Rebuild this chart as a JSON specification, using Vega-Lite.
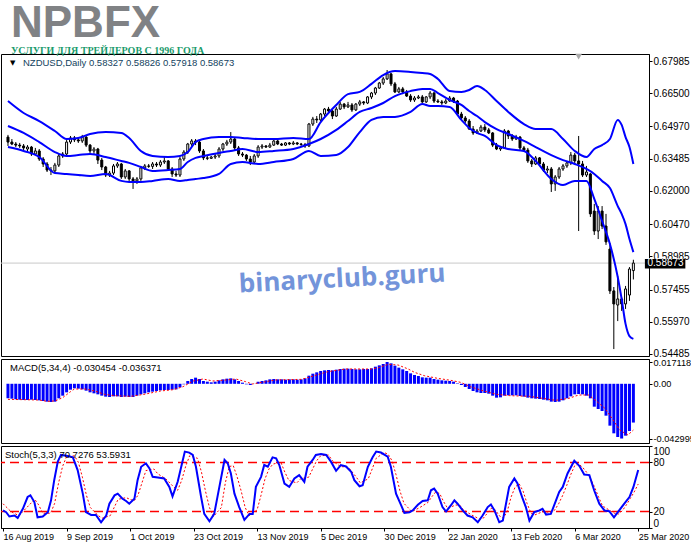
{
"$schema":"https://vega.github.io/schema/vega-lite/v6.json",
"padding":{"left":-2,"top":2,"right":0,"bottom":0},
"background":"white",
"spacing":3,
"bounds":"flush",
"title":{"text":"NPBFX","subtitle":"УСЛУГИ ДЛЯ ТРЕЙДЕРОВ С 1996 ГОДА","anchor":"start","frame":"group","font":"Liberation Sans","fontSize":44,"fontWeight":"bold","color":"#808285","subtitleFont":"Liberation Sans Narrow","subtitleFontSize":10,"subtitleFontWeight":"bold","subtitleColor":"#1a9b6c","subtitlePadding":0,"offset":-3,"dx":10},
"config":{"view":{"stroke":"#000","strokeWidth":1},"axis":{"labelFont":"Liberation Sans","labelColor":"#000","domainColor":"#000","tickColor":"#000","grid":false,"labelFontSize":10}},
"datasets":{
"bars":[
{"i":0,"o":0.6448,"h":0.6458,"l":0.6407,"c":0.6425,"m":-0.01142},
{"i":1,"o":0.6425,"h":0.6439,"l":0.6411,"c":0.6416,"m":-0.01168},
{"i":2,"o":0.6416,"h":0.6425,"l":0.6402,"c":0.6411,"m":-0.01221},
{"i":3,"o":0.6411,"h":0.6421,"l":0.6398,"c":0.6407,"m":-0.01247},
{"i":4,"o":0.6407,"h":0.6416,"l":0.6388,"c":0.6398,"m":-0.01273},
{"i":5,"o":0.6393,"h":0.6411,"l":0.6379,"c":0.6402,"m":-0.01273},
{"i":6,"o":0.6402,"h":0.6407,"l":0.6361,"c":0.637,"m":-0.01247},
{"i":7,"o":0.637,"h":0.6398,"l":0.6365,"c":0.6384,"m":-0.01273},
{"i":8,"o":0.6384,"h":0.6393,"l":0.6338,"c":0.6347,"m":-0.01299},
{"i":9,"o":0.6347,"h":0.6356,"l":0.631,"c":0.6324,"m":-0.01352},
{"i":10,"o":0.6324,"h":0.6333,"l":0.6287,"c":0.6296,"m":-0.01404},
{"i":11,"o":0.6296,"h":0.631,"l":0.6273,"c":0.6292,"m":-0.0143},
{"i":12,"o":0.6292,"h":0.6329,"l":0.6282,"c":0.6319,"m":-0.01404},
{"i":13,"o":0.6319,"h":0.637,"l":0.631,"c":0.6361,"m":-0.01142},
{"i":14,"o":0.6361,"h":0.6379,"l":0.6352,"c":0.637,"m":-0.00932},
{"i":15,"o":0.637,"h":0.6435,"l":0.6361,"c":0.6425,"m":-0.00671},
{"i":16,"o":0.6425,"h":0.6453,"l":0.6416,"c":0.6444,"m":-0.00461},
{"i":17,"o":0.6444,"h":0.6453,"l":0.6425,"c":0.6435,"m":-0.00356},
{"i":18,"o":0.6435,"h":0.6448,"l":0.6421,"c":0.643,"m":-0.00382},
{"i":19,"o":0.643,"h":0.6458,"l":0.6421,"c":0.6448,"m":-0.00435},
{"i":20,"o":0.6448,"h":0.6453,"l":0.6402,"c":0.6411,"m":-0.0054},
{"i":21,"o":0.6411,"h":0.6416,"l":0.637,"c":0.6384,"m":-0.00671},
{"i":22,"o":0.6384,"h":0.6402,"l":0.637,"c":0.6393,"m":-0.00749},
{"i":23,"o":0.6393,"h":0.6398,"l":0.6324,"c":0.6342,"m":-0.00828},
{"i":24,"o":0.6342,"h":0.6352,"l":0.6296,"c":0.631,"m":-0.00932},
{"i":25,"o":0.631,"h":0.6315,"l":0.6264,"c":0.6273,"m":-0.01011},
{"i":26,"o":0.6273,"h":0.6292,"l":0.6264,"c":0.6282,"m":-0.01037},
{"i":27,"o":0.6282,"h":0.6324,"l":0.6273,"c":0.6315,"m":-0.00985},
{"i":28,"o":0.6315,"h":0.6333,"l":0.6306,"c":0.6324,"m":-0.00985},
{"i":29,"o":0.6324,"h":0.6329,"l":0.6255,"c":0.6264,"m":-0.01037},
{"i":30,"o":0.6264,"h":0.6301,"l":0.6255,"c":0.6292,"m":-0.01011},
{"i":31,"o":0.6292,"h":0.6296,"l":0.6241,"c":0.6255,"m":-0.01037},
{"i":32,"o":0.6255,"h":0.6264,"l":0.6209,"c":0.6246,"m":-0.01037},
{"i":33,"o":0.6246,"h":0.6264,"l":0.6232,"c":0.6255,"m":-0.00932},
{"i":34,"o":0.6255,"h":0.6315,"l":0.6246,"c":0.6306,"m":-0.00828},
{"i":35,"o":0.6306,"h":0.6324,"l":0.6296,"c":0.6315,"m":-0.00749},
{"i":36,"o":0.6315,"h":0.6324,"l":0.6306,"c":0.6313,"m":-0.00671},
{"i":37,"o":0.6313,"h":0.6333,"l":0.6301,"c":0.6324,"m":-0.00618},
{"i":38,"o":0.6324,"h":0.6333,"l":0.631,"c":0.6319,"m":-0.00566},
{"i":39,"o":0.6319,"h":0.6342,"l":0.631,"c":0.6333,"m":-0.00513},
{"i":40,"o":0.6333,"h":0.6356,"l":0.6324,"c":0.6338,"m":-0.00487},
{"i":41,"o":0.6338,"h":0.6342,"l":0.6292,"c":0.6301,"m":-0.00487},
{"i":42,"o":0.6301,"h":0.631,"l":0.6264,"c":0.6278,"m":-0.00461},
{"i":43,"o":0.6278,"h":0.6292,"l":0.6264,"c":0.6273,"m":-0.00435},
{"i":44,"o":0.6273,"h":0.6356,"l":0.6264,"c":0.6347,"m":-0.00278},
{"i":45,"o":0.6347,"h":0.6388,"l":0.6338,"c":0.6379,"m":-0.00042},
{"i":46,"o":0.6379,"h":0.6421,"l":0.637,"c":0.6416,"m":0.0022},
{"i":47,"o":0.6416,"h":0.6439,"l":0.6407,"c":0.643,"m":0.00377},
{"i":48,"o":0.643,"h":0.6439,"l":0.6411,"c":0.6425,"m":0.00482},
{"i":49,"o":0.6425,"h":0.643,"l":0.6375,"c":0.6384,"m":0.00377},
{"i":50,"o":0.6384,"h":0.6393,"l":0.6342,"c":0.6352,"m":0.0022},
{"i":51,"o":0.6352,"h":0.6365,"l":0.6342,"c":0.635,"m":0.00168},
{"i":52,"o":0.635,"h":0.6361,"l":0.6347,"c":0.6356,"m":0.00115},
{"i":53,"o":0.6356,"h":0.637,"l":0.6347,"c":0.6361,"m":0.00168},
{"i":54,"o":0.6361,"h":0.6402,"l":0.6352,"c":0.6393,"m":0.00272},
{"i":55,"o":0.6393,"h":0.6421,"l":0.6384,"c":0.6416,"m":0.00351},
{"i":56,"o":0.6416,"h":0.6435,"l":0.6407,"c":0.6425,"m":0.00403},
{"i":57,"o":0.6425,"h":0.6471,"l":0.6416,"c":0.6439,"m":0.0043},
{"i":58,"o":0.6439,"h":0.6444,"l":0.6388,"c":0.6398,"m":0.00351},
{"i":59,"o":0.6398,"h":0.6407,"l":0.6361,"c":0.637,"m":0.0022},
{"i":60,"o":0.637,"h":0.6379,"l":0.6356,"c":0.6365,"m":0.00089},
{"i":61,"o":0.6365,"h":0.637,"l":0.6338,"c":0.6347,"m":-0.00042},
{"i":62,"o":0.6347,"h":0.6361,"l":0.6319,"c":0.6333,"m":-0.00094},
{"i":63,"o":0.6333,"h":0.637,"l":0.6324,"c":0.6361,"m":0.0001},
{"i":64,"o":0.6361,"h":0.6411,"l":0.6352,"c":0.6402,"m":0.00168},
{"i":65,"o":0.6402,"h":0.6416,"l":0.6393,"c":0.6407,"m":0.0022},
{"i":66,"o":0.6407,"h":0.6411,"l":0.6398,"c":0.6402,"m":0.00272},
{"i":67,"o":0.6402,"h":0.6421,"l":0.6398,"c":0.6411,"m":0.00351},
{"i":68,"o":0.6411,"h":0.6439,"l":0.6407,"c":0.643,"m":0.00377},
{"i":69,"o":0.643,"h":0.6435,"l":0.6411,"c":0.6416,"m":0.00351},
{"i":70,"o":0.6416,"h":0.6421,"l":0.6407,"c":0.6411,"m":0.00351},
{"i":71,"o":0.6411,"h":0.6425,"l":0.6407,"c":0.6421,"m":0.00325},
{"i":72,"o":0.6421,"h":0.6425,"l":0.6411,"c":0.6416,"m":0.00351},
{"i":73,"o":0.6416,"h":0.643,"l":0.6411,"c":0.6421,"m":0.00351},
{"i":74,"o":0.6421,"h":0.6425,"l":0.6411,"c":0.6416,"m":0.00325},
{"i":75,"o":0.6416,"h":0.6421,"l":0.6407,"c":0.6414,"m":0.00351},
{"i":76,"o":0.6414,"h":0.6421,"l":0.6398,"c":0.6407,"m":0.0043},
{"i":77,"o":0.6407,"h":0.6513,"l":0.6402,"c":0.6508,"m":0.00639},
{"i":78,"o":0.6508,"h":0.6541,"l":0.6499,"c":0.6531,"m":0.00796},
{"i":79,"o":0.6531,"h":0.6545,"l":0.6513,"c":0.6527,"m":0.00901},
{"i":80,"o":0.6527,"h":0.6559,"l":0.6522,"c":0.6554,"m":0.01006},
{"i":81,"o":0.6554,"h":0.6582,"l":0.6545,"c":0.6577,"m":0.01058},
{"i":82,"o":0.6577,"h":0.6587,"l":0.6559,"c":0.6568,"m":0.01084},
{"i":83,"o":0.6568,"h":0.6573,"l":0.6531,"c":0.6545,"m":0.01058},
{"i":84,"o":0.6545,"h":0.6587,"l":0.6541,"c":0.6577,"m":0.01111},
{"i":85,"o":0.6577,"h":0.661,"l":0.6573,"c":0.66,"m":0.01163},
{"i":86,"o":0.66,"h":0.6605,"l":0.6577,"c":0.6587,"m":0.01189},
{"i":87,"o":0.6587,"h":0.661,"l":0.6582,"c":0.6596,"m":0.01189},
{"i":88,"o":0.6596,"h":0.6605,"l":0.6564,"c":0.6573,"m":0.01163},
{"i":89,"o":0.6573,"h":0.6605,"l":0.6568,"c":0.66,"m":0.01137},
{"i":90,"o":0.66,"h":0.6619,"l":0.6591,"c":0.661,"m":0.01137},
{"i":91,"o":0.661,"h":0.6614,"l":0.6596,"c":0.6605,"m":0.01163},
{"i":92,"o":0.6605,"h":0.6637,"l":0.66,"c":0.6633,"m":0.01163},
{"i":93,"o":0.6633,"h":0.6656,"l":0.6623,"c":0.6651,"m":0.01215},
{"i":94,"o":0.6651,"h":0.6679,"l":0.6642,"c":0.6674,"m":0.01346},
{"i":95,"o":0.6674,"h":0.6702,"l":0.667,"c":0.6697,"m":0.01451},
{"i":96,"o":0.6697,"h":0.6725,"l":0.6688,"c":0.6716,"m":0.01556},
{"i":97,"o":0.6716,"h":0.6757,"l":0.6711,"c":0.6739,"m":0.017118},
{"i":98,"o":0.6739,"h":0.6743,"l":0.6683,"c":0.6693,"m":0.01608},
{"i":99,"o":0.6693,"h":0.6702,"l":0.6651,"c":0.6656,"m":0.01425},
{"i":100,"o":0.6656,"h":0.6679,"l":0.6651,"c":0.667,"m":0.01268},
{"i":101,"o":0.667,"h":0.6679,"l":0.6646,"c":0.6656,"m":0.01137},
{"i":102,"o":0.6656,"h":0.6665,"l":0.6633,"c":0.6637,"m":0.01006},
{"i":103,"o":0.6637,"h":0.6646,"l":0.661,"c":0.6619,"m":0.00822},
{"i":104,"o":0.6619,"h":0.6637,"l":0.661,"c":0.6628,"m":0.00692},
{"i":105,"o":0.6628,"h":0.6642,"l":0.6623,"c":0.6633,"m":0.00613},
{"i":106,"o":0.6633,"h":0.6642,"l":0.6605,"c":0.661,"m":0.00508},
{"i":107,"o":0.661,"h":0.6637,"l":0.6605,"c":0.6633,"m":0.00482},
{"i":108,"o":0.6633,"h":0.666,"l":0.6623,"c":0.6651,"m":0.00482},
{"i":109,"o":0.6651,"h":0.6656,"l":0.6605,"c":0.6614,"m":0.00377},
{"i":110,"o":0.6614,"h":0.6623,"l":0.6605,"c":0.661,"m":0.00325},
{"i":111,"o":0.661,"h":0.6619,"l":0.6596,"c":0.6605,"m":0.00272},
{"i":112,"o":0.6605,"h":0.6623,"l":0.66,"c":0.6614,"m":0.00246},
{"i":113,"o":0.6614,"h":0.6637,"l":0.661,"c":0.6628,"m":0.0022},
{"i":114,"o":0.6628,"h":0.6633,"l":0.6605,"c":0.6614,"m":0.00168},
{"i":115,"o":0.6614,"h":0.6619,"l":0.6545,"c":0.6554,"m":0.00037},
{"i":116,"o":0.6554,"h":0.6564,"l":0.6527,"c":0.6536,"m":-0.00094},
{"i":117,"o":0.6536,"h":0.6545,"l":0.6513,"c":0.6522,"m":-0.00251},
{"i":118,"o":0.6522,"h":0.6531,"l":0.6481,"c":0.6485,"m":-0.00409},
{"i":119,"o":0.6485,"h":0.6499,"l":0.6458,"c":0.6467,"m":-0.00566},
{"i":120,"o":0.6467,"h":0.6485,"l":0.6462,"c":0.6476,"m":-0.00671},
{"i":121,"o":0.6476,"h":0.6504,"l":0.6471,"c":0.6494,"m":-0.00723},
{"i":122,"o":0.6494,"h":0.6508,"l":0.6471,"c":0.6481,"m":-0.00723},
{"i":123,"o":0.6481,"h":0.649,"l":0.6462,"c":0.6467,"m":-0.00775},
{"i":124,"o":0.6467,"h":0.6471,"l":0.6402,"c":0.6411,"m":-0.00932},
{"i":125,"o":0.6411,"h":0.6421,"l":0.6388,"c":0.6393,"m":-0.0109},
{"i":126,"o":0.6393,"h":0.6407,"l":0.6384,"c":0.6398,"m":-0.01063},
{"i":127,"o":0.6398,"h":0.6485,"l":0.6393,"c":0.6476,"m":-0.00932},
{"i":128,"o":0.6476,"h":0.6481,"l":0.6439,"c":0.6453,"m":-0.00906},
{"i":129,"o":0.6453,"h":0.6462,"l":0.643,"c":0.6439,"m":-0.00906},
{"i":130,"o":0.6439,"h":0.6458,"l":0.6435,"c":0.6448,"m":-0.00906},
{"i":131,"o":0.6448,"h":0.6453,"l":0.6388,"c":0.6398,"m":-0.00959},
{"i":132,"o":0.6398,"h":0.6407,"l":0.6379,"c":0.6388,"m":-0.01011},
{"i":133,"o":0.6388,"h":0.6398,"l":0.6329,"c":0.6338,"m":-0.0109},
{"i":134,"o":0.6338,"h":0.6347,"l":0.631,"c":0.6324,"m":-0.01142},
{"i":135,"o":0.6324,"h":0.6361,"l":0.6319,"c":0.6352,"m":-0.01168},
{"i":136,"o":0.6352,"h":0.6356,"l":0.6315,"c":0.6324,"m":-0.01194},
{"i":137,"o":0.6324,"h":0.6333,"l":0.6287,"c":0.6296,"m":-0.01247},
{"i":138,"o":0.6296,"h":0.6315,"l":0.6282,"c":0.6301,"m":-0.01299},
{"i":139,"o":0.6301,"h":0.631,"l":0.6195,"c":0.6232,"m":-0.01404},
{"i":140,"o":0.6232,"h":0.6273,"l":0.62,"c":0.6264,"m":-0.0143},
{"i":141,"o":0.6264,"h":0.631,"l":0.6255,"c":0.6301,"m":-0.01404},
{"i":142,"o":0.6301,"h":0.6324,"l":0.6292,"c":0.6315,"m":-0.01299},
{"i":143,"o":0.6315,"h":0.6338,"l":0.6306,"c":0.6329,"m":-0.01142},
{"i":144,"o":0.6329,"h":0.6379,"l":0.6319,"c":0.6365,"m":-0.00985},
{"i":145,"o":0.6365,"h":0.6375,"l":0.6324,"c":0.6338,"m":-0.00828},
{"i":146,"o":0.6338,"h":0.6453,"l":0.6015,"c":0.6324,"m":-0.00802},
{"i":147,"o":0.6324,"h":0.6338,"l":0.6264,"c":0.6273,"m":-0.00828},
{"i":148,"o":0.6273,"h":0.6315,"l":0.6264,"c":0.6287,"m":-0.00932},
{"i":149,"o":0.6278,"h":0.6282,"l":0.608,"c":0.6094,"m":-0.01142},
{"i":150,"o":0.6107,"h":0.614,"l":0.5997,"c":0.6015,"m":-0.01797},
{"i":151,"o":0.6015,"h":0.613,"l":0.5978,"c":0.6107,"m":-0.0198},
{"i":152,"o":0.6107,"h":0.613,"l":0.6024,"c":0.6038,"m":-0.02137},
{"i":153,"o":0.6038,"h":0.6094,"l":0.5951,"c":0.5965,"m":-0.02504},
{"i":154,"o":0.5932,"h":0.596,"l":0.5725,"c":0.5739,"m":-0.0329},
{"i":155,"o":0.5739,"h":0.5757,"l":0.5471,"c":0.5679,"m":-0.03892},
{"i":156,"o":0.5674,"h":0.5808,"l":0.56,"c":0.5702,"m":-0.04181},
{"i":157,"o":0.5702,"h":0.5711,"l":0.5647,"c":0.5679,"m":-0.042995},
{"i":158,"o":0.5679,"h":0.5762,"l":0.5656,"c":0.5748,"m":-0.04076},
{"i":159,"o":0.572,"h":0.5849,"l":0.5693,"c":0.584,"m":-0.0371},
{"i":160,"o":0.58327,"h":0.58826,"l":0.57918,"c":0.58673,"m":-0.030454}
],
"bands":[
{"i":0,"up":0.6614,"mid":0.6499,"lo":0.6402},
{"i":4,"up":0.6559,"mid":0.6467,"lo":0.6384},
{"i":8,"up":0.6522,"mid":0.6425,"lo":0.6356},
{"i":12,"up":0.6476,"mid":0.6379,"lo":0.6282},
{"i":15,"up":0.6439,"mid":0.6361,"lo":0.6278},
{"i":18,"up":0.6444,"mid":0.6365,"lo":0.6273},
{"i":21,"up":0.6462,"mid":0.637,"lo":0.6269},
{"i":25,"up":0.6471,"mid":0.6356,"lo":0.6278},
{"i":29,"up":0.6467,"mid":0.6338,"lo":0.6246},
{"i":31,"up":0.6444,"mid":0.6329,"lo":0.6241},
{"i":34,"up":0.6384,"mid":0.631,"lo":0.6241},
{"i":37,"up":0.6361,"mid":0.6292,"lo":0.6246},
{"i":41,"up":0.6356,"mid":0.6296,"lo":0.6255},
{"i":44,"up":0.6361,"mid":0.6301,"lo":0.6246},
{"i":46,"up":0.6379,"mid":0.6333,"lo":0.625},
{"i":48,"up":0.6425,"mid":0.6352,"lo":0.6255},
{"i":50,"up":0.6439,"mid":0.6361,"lo":0.6259},
{"i":54,"up":0.6448,"mid":0.6375,"lo":0.6278},
{"i":57,"up":0.6448,"mid":0.6384,"lo":0.6324},
{"i":60,"up":0.6444,"mid":0.6393,"lo":0.6333},
{"i":64,"up":0.6439,"mid":0.6379,"lo":0.6324},
{"i":68,"up":0.6439,"mid":0.6384,"lo":0.6333},
{"i":73,"up":0.6444,"mid":0.6393,"lo":0.6347},
{"i":77,"up":0.6439,"mid":0.6416,"lo":0.6384},
{"i":80,"up":0.6517,"mid":0.6439,"lo":0.6361},
{"i":84,"up":0.6596,"mid":0.6481,"lo":0.6365},
{"i":87,"up":0.6646,"mid":0.6522,"lo":0.6402},
{"i":90,"up":0.6656,"mid":0.6564,"lo":0.6471},
{"i":93,"up":0.6693,"mid":0.6582,"lo":0.6527},
{"i":96,"up":0.6734,"mid":0.6605,"lo":0.6541},
{"i":99,"up":0.6752,"mid":0.6637,"lo":0.6541},
{"i":103,"up":0.6748,"mid":0.666,"lo":0.6564},
{"i":106,"up":0.6743,"mid":0.667,"lo":0.66},
{"i":108,"up":0.6739,"mid":0.667,"lo":0.6591},
{"i":110,"up":0.6716,"mid":0.6651,"lo":0.6591},
{"i":113,"up":0.666,"mid":0.6619,"lo":0.6587},
{"i":116,"up":0.6656,"mid":0.6596,"lo":0.6527},
{"i":118,"up":0.6665,"mid":0.6568,"lo":0.649},
{"i":120,"up":0.6683,"mid":0.6545,"lo":0.6467},
{"i":122,"up":0.6665,"mid":0.6517,"lo":0.6453},
{"i":125,"up":0.6614,"mid":0.6485,"lo":0.6411},
{"i":128,"up":0.6564,"mid":0.6462,"lo":0.6393},
{"i":132,"up":0.6508,"mid":0.643,"lo":0.6384},
{"i":135,"up":0.6485,"mid":0.6402,"lo":0.6338},
{"i":139,"up":0.6485,"mid":0.6365,"lo":0.6255},
{"i":142,"up":0.6439,"mid":0.6342,"lo":0.6227},
{"i":145,"up":0.6384,"mid":0.6324,"lo":0.6246},
{"i":148,"up":0.6356,"mid":0.6301,"lo":0.6246},
{"i":150,"up":0.6393,"mid":0.6278,"lo":0.6163},
{"i":152,"up":0.6411,"mid":0.6246,"lo":0.6061},
{"i":154,"up":0.6439,"mid":0.6213,"lo":0.5955},
{"i":156,"up":0.6527,"mid":0.613,"lo":0.5803},
{"i":157,"up":0.6504,"mid":0.6094,"lo":0.5702},
{"i":158,"up":0.6448,"mid":0.6047,"lo":0.5587},
{"i":159,"up":0.6402,"mid":0.5978,"lo":0.5531},
{"i":160,"up":0.6324,"mid":0.5918,"lo":0.5518}
],
"sig":[
{"i":0,"s":-0.01221},{"i":4,"s":-0.01247},{"i":8,"s":-0.01273},{"i":10,"s":-0.01378},{"i":12,"s":-0.01352},{"i":14,"s":-0.0109},{"i":16,"s":-0.00618},{"i":17,"s":-0.00409},{"i":19.7,"s":-0.00409},{"i":22.2,"s":-0.00566},{"i":24.7,"s":-0.00828},{"i":27.2,"s":-0.00932},{"i":31.4,"s":-0.00985},{"i":34.8,"s":-0.00828},{"i":39,"s":-0.00566},{"i":42.3,"s":-0.00461},{"i":44.8,"s":-0.00225},{"i":47.4,"s":0.0022},{"i":49.9,"s":0.00377},{"i":52.4,"s":0.0022},{"i":55.8,"s":0.00299},{"i":58.3,"s":0.00377},{"i":60.8,"s":0.00168},{"i":62.5,"s":-0.00016},{"i":65,"s":0.00115},{"i":68.3,"s":0.00299},{"i":75.1,"s":0.00351},{"i":78.4,"s":0.00639},{"i":81.8,"s":0.00953},{"i":86.4,"s":0.01163},{"i":93.1,"s":0.01163},{"i":94.8,"s":0.01268},{"i":97.3,"s":0.0153},{"i":99.8,"s":0.01477},{"i":102.4,"s":0.01163},{"i":104,"s":0.00901},{"i":106.5,"s":0.00639},{"i":109.9,"s":0.0043},{"i":113.3,"s":0.00272},{"i":115.8,"s":0.00115},{"i":118.3,"s":-0.00225},{"i":121.7,"s":-0.00566},{"i":125,"s":-0.00828},{"i":128.4,"s":-0.00932},{"i":133.4,"s":-0.00985},{"i":136.8,"s":-0.01142},{"i":140.1,"s":-0.01299},{"i":143.5,"s":-0.01142},{"i":146,"s":-0.0088},{"i":148.5,"s":-0.0088},{"i":150.2,"s":-0.01273},{"i":152.7,"s":-0.01923},{"i":154.8,"s":-0.02839},{"i":156.5,"s":-0.0363},{"i":158.6,"s":-0.04023},{"i":160,"s":-0.036371}
],
"k":[
{"i":0,"k":21.4},{"i":0.8,"k":19.3},{"i":1.6,"k":14},{"i":2.9,"k":15.2},{"i":3.7,"k":12.3},{"i":5,"k":23.4},{"i":6.2,"k":37.8},{"i":6.9,"k":39.8},{"i":7.9,"k":31.6},{"i":8.7,"k":13.1},{"i":10,"k":14},{"i":11.3,"k":19.3},{"i":12.1,"k":33.7},{"i":12.9,"k":58.3},{"i":13.8,"k":80.9},{"i":14.6,"k":89.1},{"i":16.3,"k":87.9},{"i":17.6,"k":86.2},{"i":18.8,"k":70.6},{"i":20.1,"k":41.9},{"i":20.9,"k":19.3},{"i":22.2,"k":16},{"i":23.4,"k":16},{"i":24.7,"k":7},{"i":26,"k":15.2},{"i":26.8,"k":29.6},{"i":28.1,"k":39.8},{"i":28.9,"k":41.9},{"i":30.1,"k":35.7},{"i":31,"k":32.9},{"i":31.8,"k":29.6},{"i":33.1,"k":35.7},{"i":33.9,"k":58.3},{"i":34.8,"k":74.7},{"i":36,"k":78.9},{"i":36.9,"k":72.7},{"i":37.7,"k":62.4},{"i":39,"k":61.6},{"i":40.6,"k":60.4},{"i":41.9,"k":50.1},{"i":42.7,"k":38.6},{"i":44,"k":56.3},{"i":45.3,"k":83},{"i":45.8,"k":93.2},{"i":46.9,"k":92},{"i":47.8,"k":89.1},{"i":48.6,"k":74.7},{"i":49.9,"k":37.8},{"i":50.7,"k":17.2},{"i":52,"k":8.2},{"i":53.2,"k":17.2},{"i":54.5,"k":50.1},{"i":55.8,"k":83},{"i":56.6,"k":78.9},{"i":57.4,"k":66.5},{"i":58.3,"k":41.9},{"i":59.5,"k":25.5},{"i":60.8,"k":9.9},{"i":62.1,"k":17.2},{"i":62.9,"k":17.2},{"i":63.7,"k":50.1},{"i":65,"k":62.4},{"i":65.8,"k":76.8},{"i":66.7,"k":74.7},{"i":67.9,"k":86.2},{"i":68.8,"k":85},{"i":69.6,"k":76.8},{"i":70.9,"k":54.2},{"i":72.1,"k":50.1},{"i":73.4,"k":60.4},{"i":74.6,"k":64.5},{"i":75.9,"k":56.3},{"i":76.7,"k":74.7},{"i":78,"k":83},{"i":78.8,"k":89.1},{"i":80.1,"k":90.3},{"i":81.4,"k":89.1},{"i":82.6,"k":80.9},{"i":83.9,"k":69.8},{"i":85.1,"k":76.8},{"i":86.4,"k":75},{"i":87.7,"k":68.6},{"i":88.5,"k":58.3},{"i":89.8,"k":50.9},{"i":90.6,"k":52.2},{"i":91.9,"k":74.7},{"i":93.1,"k":86.2},{"i":94,"k":93.2},{"i":95.2,"k":92},{"i":96.9,"k":87.1},{"i":97.7,"k":74.7},{"i":99,"k":41.9},{"i":100.3,"k":27.5},{"i":101.1,"k":18.5},{"i":102.4,"k":19.3},{"i":103.2,"k":21.4},{"i":104.5,"k":28.3},{"i":105.7,"k":32.9},{"i":107,"k":33.7},{"i":107.8,"k":46},{"i":108.6,"k":48},{"i":109.5,"k":41.9},{"i":110.7,"k":25.5},{"i":111.6,"k":20.1},{"i":112.8,"k":27.5},{"i":113.7,"k":33.7},{"i":114.5,"k":29.6},{"i":115.8,"k":21.4},{"i":117,"k":15.2},{"i":118.3,"k":13.1},{"i":119.6,"k":7},{"i":120.8,"k":15.2},{"i":122.1,"k":25.5},{"i":122.9,"k":28.7},{"i":123.8,"k":21.4},{"i":125,"k":7},{"i":125.9,"k":9},{"i":126.7,"k":29.6},{"i":127.5,"k":50.1},{"i":128.8,"k":60.4},{"i":129.6,"k":54.2},{"i":130.9,"k":35.7},{"i":131.7,"k":25.5},{"i":132.6,"k":9},{"i":133.8,"k":19.3},{"i":135.1,"k":21.4},{"i":135.9,"k":23.4},{"i":136.8,"k":16.4},{"i":138,"k":17.2},{"i":139.3,"k":33.7},{"i":140.1,"k":43.9},{"i":141,"k":50.1},{"i":142.2,"k":66.5},{"i":143.9,"k":82.1},{"i":145.2,"k":75.6},{"i":146.4,"k":65.3},{"i":147.7,"k":64.5},{"i":148.9,"k":46},{"i":150.2,"k":29.6},{"i":151.5,"k":21.4},{"i":152.7,"k":20.5},{"i":153.9,"k":13.1},{"i":155.2,"k":21.4},{"i":156.5,"k":29.6},{"i":157.8,"k":37.8},{"i":158.8,"k":50.1},{"i":160,"k":70.7276}
],
"d":[
{"i":0,"d":29.6},{"i":2,"d":20},{"i":4,"d":15},{"i":6,"d":25},{"i":8,"d":35},{"i":9,"d":28},{"i":10,"d":18},{"i":12,"d":18},{"i":13,"d":30},{"i":14,"d":55},{"i":15,"d":75},{"i":16,"d":87},{"i":18,"d":88},{"i":19,"d":80},{"i":20,"d":62},{"i":21,"d":40},{"i":22,"d":25},{"i":24,"d":15},{"i":25,"d":12},{"i":27,"d":15},{"i":28,"d":25},{"i":29,"d":35},{"i":31,"d":37},{"i":33,"d":33},{"i":34,"d":40},{"i":35,"d":55},{"i":36,"d":70},{"i":38,"d":72},{"i":39,"d":66},{"i":41,"d":60},{"i":43,"d":50},{"i":44,"d":46},{"i":45,"d":58},{"i":46,"d":75},{"i":47,"d":88},{"i":49,"d":85},{"i":50,"d":68},{"i":51,"d":45},{"i":52,"d":25},{"i":53,"d":14},{"i":55,"d":25},{"i":56,"d":55},{"i":57,"d":75},{"i":58,"d":76},{"i":59,"d":62},{"i":60,"d":45},{"i":61,"d":25},{"i":62,"d":15},{"i":64,"d":22},{"i":65,"d":40},{"i":66,"d":60},{"i":67,"d":72},{"i":68,"d":78},{"i":70,"d":80},{"i":71,"d":68},{"i":72,"d":58},{"i":74,"d":55},{"i":75,"d":60},{"i":77,"d":62},{"i":78,"d":72},{"i":79,"d":82},{"i":80,"d":88},{"i":82,"d":89},{"i":83,"d":82},{"i":85,"d":75},{"i":87,"d":74},{"i":89,"d":62},{"i":90,"d":55},{"i":92,"d":60},{"i":93,"d":72},{"i":94,"d":85},{"i":96,"d":92},{"i":97,"d":90},{"i":98,"d":82},{"i":99,"d":65},{"i":100,"d":45},{"i":101,"d":30},{"i":103,"d":20},{"i":105,"d":25},{"i":107,"d":31},{"i":108,"d":38},{"i":109,"d":44},{"i":110,"d":42},{"i":111,"d":32},{"i":112,"d":24},{"i":114,"d":28},{"i":115,"d":28},{"i":116,"d":22},{"i":118,"d":16},{"i":120,"d":11},{"i":121,"d":12},{"i":122,"d":18},{"i":123,"d":24},{"i":124,"d":22},{"i":125,"d":15},{"i":126,"d":12},{"i":127,"d":20},{"i":128,"d":38},{"i":129,"d":50},{"i":130,"d":54},{"i":131,"d":45},{"i":132,"d":30},{"i":133,"d":18},{"i":134,"d":16},{"i":136,"d":20},{"i":138,"d":19},{"i":139,"d":22},{"i":140,"d":30},{"i":141,"d":40},{"i":142,"d":52},{"i":143,"d":65},{"i":144,"d":76},{"i":145,"d":78},{"i":146,"d":74},{"i":147,"d":68},{"i":148,"d":60},{"i":149,"d":50},{"i":150,"d":38},{"i":151,"d":27},{"i":153,"d":21},{"i":154,"d":18},{"i":155,"d":17},{"i":156,"d":21},{"i":157,"d":28},{"i":158,"d":36},{"i":159,"d":44},{"i":160,"d":53.5931}
]
},
"vconcat":[
{
"width":648,"height":302,
"layer":[
{"data":{"values":[{}]},"mark":{"type":"rule","color":"#c8c8c8","strokeWidth":1},
 "encoding":{"y":{"datum":0.58673,"type":"quantitative","scale":{"domain":[0.54391,0.68308],"nice":false,"zero":false},"axis":{"orient":"right","values":[0.54485,0.5597,0.57455,0.58985,0.6047,0.62,0.63485,0.6497,0.665,0.67985],"format":".5f","title":null,"tickSize":3,"labelPadding":1,"labelFontSize":10}}}},
{"data":{"name":"bars"},"mark":{"type":"rule","color":"#000","strokeWidth":1},
 "encoding":{"x":{"field":"i","type":"quantitative","scale":{"domain":[-0.504,162.72],"nice":false,"zero":false},"axis":null},
  "y":{"field":"l","type":"quantitative","scale":{"domain":[0.54391,0.68308],"nice":false,"zero":false},"axis":{"orient":"right","values":[0.54485,0.5597,0.57455,0.58985,0.6047,0.62,0.63485,0.6497,0.665,0.67985],"format":".5f","title":null,"tickSize":3,"labelPadding":1,"labelFontSize":10}},"y2":{"field":"h"}}},
{"data":{"name":"bars"},"mark":{"type":"bar","width":2,"stroke":"#000","strokeWidth":1},
 "encoding":{"x":{"field":"i","type":"quantitative","scale":{"domain":[-0.504,162.72],"nice":false,"zero":false},"axis":null},
  "y":{"field":"o","type":"quantitative","scale":{"domain":[0.54391,0.68308],"nice":false,"zero":false},"axis":{"orient":"right","values":[0.54485,0.5597,0.57455,0.58985,0.6047,0.62,0.63485,0.6497,0.665,0.67985],"format":".5f","title":null,"tickSize":3,"labelPadding":1,"labelFontSize":10}},
  "y2":{"field":"c"},
  "fill":{"condition":{"test":"datum.c >= datum.o","value":"#ffffff"},"value":"#000000"}}},
{"data":{"name":"bands"},"mark":{"type":"line","color":"#0000ff","strokeWidth":2,"interpolate":"monotone"},
 "encoding":{"x":{"field":"i","type":"quantitative","scale":{"domain":[-0.504,162.72],"nice":false,"zero":false},"axis":null},
  "y":{"field":"up","type":"quantitative","scale":{"domain":[0.54391,0.68308],"nice":false,"zero":false},"axis":{"orient":"right","values":[0.54485,0.5597,0.57455,0.58985,0.6047,0.62,0.63485,0.6497,0.665,0.67985],"format":".5f","title":null,"tickSize":3,"labelPadding":1,"labelFontSize":10}}}},
{"data":{"name":"bands"},"mark":{"type":"line","color":"#0000ff","strokeWidth":2,"interpolate":"monotone"},
 "encoding":{"x":{"field":"i","type":"quantitative","scale":{"domain":[-0.504,162.72],"nice":false,"zero":false},"axis":null},
  "y":{"field":"mid","type":"quantitative","scale":{"domain":[0.54391,0.68308],"nice":false,"zero":false},"axis":{"orient":"right","values":[0.54485,0.5597,0.57455,0.58985,0.6047,0.62,0.63485,0.6497,0.665,0.67985],"format":".5f","title":null,"tickSize":3,"labelPadding":1,"labelFontSize":10}}}},
{"data":{"name":"bands"},"mark":{"type":"line","color":"#0000ff","strokeWidth":2,"interpolate":"monotone"},
 "encoding":{"x":{"field":"i","type":"quantitative","scale":{"domain":[-0.504,162.72],"nice":false,"zero":false},"axis":null},
  "y":{"field":"lo","type":"quantitative","scale":{"domain":[0.54391,0.68308],"nice":false,"zero":false},"axis":{"orient":"right","values":[0.54485,0.5597,0.57455,0.58985,0.6047,0.62,0.63485,0.6497,0.665,0.67985],"format":".5f","title":null,"tickSize":3,"labelPadding":1,"labelFontSize":10}}}},
{"data":{"values":[{"t":"▼"}]},"mark":{"type":"text","align":"left","baseline":"middle","font":"DejaVu Sans","fontSize":7,"color":"#000000","dx":2},
 "encoding":{"x":{"datum":0,"type":"quantitative","scale":{"domain":[-0.504,162.72],"nice":false,"zero":false},"axis":null},"y":{"datum":0.6789,"type":"quantitative","scale":{"domain":[0.54391,0.68308],"nice":false,"zero":false},"axis":{"orient":"right","values":[0.54485,0.5597,0.57455,0.58985,0.6047,0.62,0.63485,0.6497,0.665,0.67985],"format":".5f","title":null,"tickSize":3,"labelPadding":1,"labelFontSize":10}},"text":{"field":"t"}}},
{"data":{"values":[{"t":"NZDUSD,Daily  0.58327 0.58826 0.57918 0.58673"}]},"mark":{"type":"text","align":"left","baseline":"middle","font":"Liberation Sans","fontSize":9.5,"color":"#123f60","dx":15},
 "encoding":{"x":{"datum":0,"type":"quantitative","scale":{"domain":[-0.504,162.72],"nice":false,"zero":false},"axis":null},"y":{"datum":0.6789,"type":"quantitative","scale":{"domain":[0.54391,0.68308],"nice":false,"zero":false},"axis":{"orient":"right","values":[0.54485,0.5597,0.57455,0.58985,0.6047,0.62,0.63485,0.6497,0.665,0.67985],"format":".5f","title":null,"tickSize":3,"labelPadding":1,"labelFontSize":10}},"text":{"field":"t"}}},
{"data":{"values":[{"t":"binaryclub.guru"}]},"mark":{"type":"text","align":"center","baseline":"alphabetic","font":"Open Sans","fontWeight":"bold","fontSize":26,"color":"#7394da","angle":-3},
 "encoding":{"x":{"datum":85.6,"type":"quantitative","scale":{"domain":[-0.504,162.72],"nice":false,"zero":false},"axis":null},"y":{"datum":0.5757,"type":"quantitative","scale":{"domain":[0.54391,0.68308],"nice":false,"zero":false},"axis":{"orient":"right","values":[0.54485,0.5597,0.57455,0.58985,0.6047,0.62,0.63485,0.6497,0.665,0.67985],"format":".5f","title":null,"tickSize":3,"labelPadding":1,"labelFontSize":10}},"text":{"field":"t"}}},
{"data":{"values":[{}]},"mark":{"type":"point","shape":"triangle-down","filled":true,"color":"#aaaaaa","size":45,"opacity":1},
 "encoding":{"x":{"datum":146,"type":"quantitative","scale":{"domain":[-0.504,162.72],"nice":false,"zero":false},"axis":null},"y":{"datum":0.6819,"type":"quantitative","scale":{"domain":[0.54391,0.68308],"nice":false,"zero":false},"axis":{"orient":"right","values":[0.54485,0.5597,0.57455,0.58985,0.6047,0.62,0.63485,0.6497,0.665,0.67985],"format":".5f","title":null,"tickSize":3,"labelPadding":1,"labelFontSize":10}}}},
{"data":{"values":[{}]},"mark":{"type":"rect","color":"#000000"},
 "encoding":{"x":{"datum":162.95,"type":"quantitative","scale":{"domain":[-0.504,162.72],"nice":false,"zero":false},"axis":null},"x2":{"datum":173.3},"y":{"datum":0.58862,"type":"quantitative","scale":{"domain":[0.54391,0.68308],"nice":false,"zero":false},"axis":{"orient":"right","values":[0.54485,0.5597,0.57455,0.58985,0.6047,0.62,0.63485,0.6497,0.665,0.67985],"format":".5f","title":null,"tickSize":3,"labelPadding":1,"labelFontSize":10}},"y2":{"datum":0.58424}}},
{"data":{"values":[{"t":"0.58673"}]},"mark":{"type":"text","align":"left","baseline":"middle","font":"Liberation Sans","fontSize":10,"color":"#ffffff","dx":2},
 "encoding":{"x":{"datum":163.1,"type":"quantitative","scale":{"domain":[-0.504,162.72],"nice":false,"zero":false},"axis":null},"y":{"datum":0.58673,"type":"quantitative","scale":{"domain":[0.54391,0.68308],"nice":false,"zero":false},"axis":{"orient":"right","values":[0.54485,0.5597,0.57455,0.58985,0.6047,0.62,0.63485,0.6497,0.665,0.67985],"format":".5f","title":null,"tickSize":3,"labelPadding":1,"labelFontSize":10}},"text":{"field":"t"}}}
]
},
{
"width":648,"height":84,
"layer":[
{"data":{"name":"bars"},"mark":{"type":"bar","width":3,"color":"#0000ff"},
 "encoding":{"x":{"field":"i","type":"quantitative","scale":{"domain":[-0.504,162.72],"nice":false,"zero":false},"axis":null},
  "y":{"field":"m","type":"quantitative","scale":{"domain":[-0.04652,0.01949],"nice":false,"zero":false},"axis":{"orient":"right","values":[-0.042995,0,0.017118],"labelExpr":"datum.value == 0 ? '0.00' : (datum.value > 0 ? '0.017118' : '-0.042995')","labelFlush":true,"labelFlushOffset":4,"title":null,"tickSize":3,"labelPadding":1,"labelFontSize":9.2}},
  "y2":{"datum":0}}},
{"data":{"name":"sig"},"mark":{"type":"line","color":"#ff0000","strokeWidth":1,"strokeDash":[2,2]},
 "encoding":{"x":{"field":"i","type":"quantitative","scale":{"domain":[-0.504,162.72],"nice":false,"zero":false},"axis":null},
  "y":{"field":"s","type":"quantitative","scale":{"domain":[-0.04652,0.01949],"nice":false,"zero":false},"axis":{"orient":"right","values":[-0.042995,0,0.017118],"labelExpr":"datum.value == 0 ? '0.00' : (datum.value > 0 ? '0.017118' : '-0.042995')","labelFlush":true,"labelFlushOffset":4,"title":null,"tickSize":3,"labelPadding":1,"labelFontSize":9.2}}}},
{"data":{"values":[{"t":"MACD(5,34,4) -0.030454 -0.036371"}]},"mark":{"type":"text","align":"left","baseline":"middle","font":"Liberation Sans","fontSize":9.5,"color":"#000000","dx":2},
 "encoding":{"x":{"datum":0,"type":"quantitative","scale":{"domain":[-0.504,162.72],"nice":false,"zero":false},"axis":null},"y":{"datum":0.01242,"type":"quantitative","scale":{"domain":[-0.04652,0.01949],"nice":false,"zero":false},"axis":{"orient":"right","values":[-0.042995,0,0.017118],"labelExpr":"datum.value == 0 ? '0.00' : (datum.value > 0 ? '0.017118' : '-0.042995')","labelFlush":true,"labelFlushOffset":4,"title":null,"tickSize":3,"labelPadding":1,"labelFontSize":9.2}},"text":{"field":"t"}}}
]
},
{
"width":648,"height":82,
"layer":[
{"data":{"values":[{"v":80},{"v":20}]},"mark":{"type":"rule","color":"#ff0000","strokeWidth":1.5,"strokeDash":[9,5]},
 "encoding":{"y":{"field":"v","type":"quantitative","scale":{"domain":[0,100],"nice":false,"zero":false},"axis":{"orient":"right","values":[0,20,80,100],"labelFlush":true,"title":null,"tickSize":3,"labelPadding":1,"labelFontSize":10}}}},
{"data":{"name":"d"},"mark":{"type":"line","color":"#ff0000","strokeWidth":1,"strokeDash":[2,2]},
 "encoding":{"x":{"field":"i","type":"quantitative","scale":{"domain":[-0.504,162.72],"nice":false,"zero":false},"axis":{"orient":"bottom","values":[0,16,32,48,64,80,96,112,128,144,160],"labelExpr":"['16 Aug 2019','9 Sep 2019','1 Oct 2019','23 Oct 2019','13 Nov 2019','5 Dec 2019','30 Dec 2019','22 Jan 2020','13 Feb 2020','6 Mar 2020','25 Mar 2020'][round(datum.value/16)]","labelAlign":"left","labelFontSize":9,"labelPadding":1,"tickSize":3,"labelOverlap":false,"labelFlush":false,"title":null}},
  "y":{"field":"d","type":"quantitative","scale":{"domain":[0,100],"nice":false,"zero":false},"axis":{"orient":"right","values":[0,20,80,100],"labelFlush":true,"title":null,"tickSize":3,"labelPadding":1,"labelFontSize":10}}}},
{"data":{"name":"k"},"mark":{"type":"line","color":"#0000ff","strokeWidth":2},
 "encoding":{"x":{"field":"i","type":"quantitative","scale":{"domain":[-0.504,162.72],"nice":false,"zero":false},"axis":{"orient":"bottom","values":[0,16,32,48,64,80,96,112,128,144,160],"labelExpr":"['16 Aug 2019','9 Sep 2019','1 Oct 2019','23 Oct 2019','13 Nov 2019','5 Dec 2019','30 Dec 2019','22 Jan 2020','13 Feb 2020','6 Mar 2020','25 Mar 2020'][round(datum.value/16)]","labelAlign":"left","labelFontSize":9,"labelPadding":1,"tickSize":3,"labelOverlap":false,"labelFlush":false,"title":null}},
  "y":{"field":"k","type":"quantitative","scale":{"domain":[0,100],"nice":false,"zero":false},"axis":{"orient":"right","values":[0,20,80,100],"labelFlush":true,"title":null,"tickSize":3,"labelPadding":1,"labelFontSize":10}}}},
{"data":{"values":[{"t":"Stoch(5,3,3) 70.7276 53.5931"}]},"mark":{"type":"text","align":"left","baseline":"middle","font":"Liberation Sans","fontSize":9.5,"color":"#000000","dx":2},
 "encoding":{"x":{"datum":0,"type":"quantitative","scale":{"domain":[-0.504,162.72],"nice":false,"zero":false},"axis":{"orient":"bottom","values":[0,16,32,48,64,80,96,112,128,144,160],"labelExpr":"['16 Aug 2019','9 Sep 2019','1 Oct 2019','23 Oct 2019','13 Nov 2019','5 Dec 2019','30 Dec 2019','22 Jan 2020','13 Feb 2020','6 Mar 2020','25 Mar 2020'][round(datum.value/16)]","labelAlign":"left","labelFontSize":9,"labelPadding":1,"tickSize":3,"labelOverlap":false,"labelFlush":false,"title":null}},"y":{"datum":89,"type":"quantitative","scale":{"domain":[0,100],"nice":false,"zero":false},"axis":{"orient":"right","values":[0,20,80,100],"labelFlush":true,"title":null,"tickSize":3,"labelPadding":1,"labelFontSize":10}},"text":{"field":"t"}}}
]
}
]
}
